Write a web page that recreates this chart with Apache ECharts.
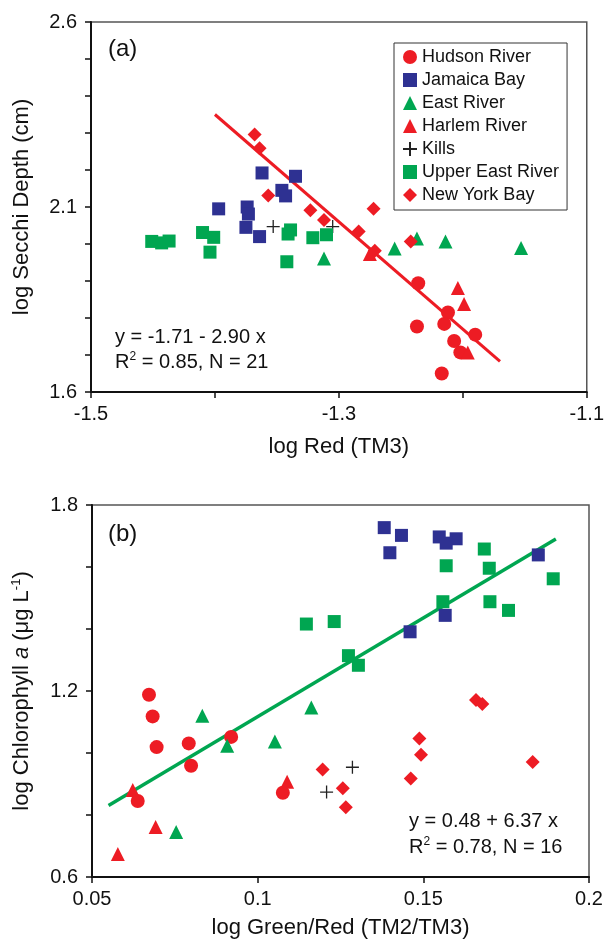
<!DOCTYPE html>
<html>
<head>
<meta charset="utf-8">
<title>Secchi depth and chlorophyll vs Landsat TM reflectance</title>
<script src="https://cdn.jsdelivr.net/npm/echarts@6/dist/echarts.min.js"></script>
<style>
  html, body { margin: 0; padding: 0; background: #fff; }
  #chart { width: 607px; height: 944px; }
</style>
</head>
<body>
<div id="chart"></div>
<script>
// ---- Panel (a): log Red (TM3) vs log Secchi depth ----
const hudsonA_x = [-1.236, -1.212, -1.215, -1.237, -1.207, -1.190, -1.202, -1.217];
const hudsonA_y = [1.894, 1.815, 1.784, 1.777, 1.738, 1.755, 1.707, 1.650];
const jamaicaA_x = [-1.362, -1.335, -1.346, -1.343, -1.397, -1.374, -1.373, -1.375, -1.364];
const jamaicaA_y = [2.192, 2.183, 2.145, 2.130, 2.095, 2.100, 2.081, 2.045, 2.020];
const eastA_x = [-1.312, -1.255, -1.237, -1.214, -1.153];
const eastA_y = [1.961, 1.988, 2.015, 2.007, 1.989];
const harlemA_x = [-1.275, -1.204, -1.199, -1.196];
const harlemA_y = [1.973, 1.881, 1.838, 1.707];
const killsA_x = [-1.353, -1.305];
const killsA_y = [2.047, 2.047];
const upperEastA_x = [-1.451, -1.443, -1.437, -1.410, -1.401, -1.404, -1.339, -1.341, -1.321, -1.310, -1.342];
const upperEastA_y = [2.007, 2.003, 2.008, 2.031, 2.018, 1.978, 2.038, 2.027, 2.017, 2.025, 1.952];
const nyBayA_x = [-1.368, -1.364, -1.357, -1.323, -1.312, -1.284, -1.272, -1.271, -1.242];
const nyBayA_y = [2.296, 2.259, 2.131, 2.091, 2.065, 2.034, 2.095, 1.982, 2.007];
// regression y = -1.71 - 2.90 x over the fitted range
const fitA = { intercept: -1.71, slope: -2.90 };
const fitA_xRange = [-1.40, -1.17];
const redTickLabels = ['-1.5', '-1.3', '-1.1'];
const secchiTickLabels = ['1.6', '2.1', '2.6'];

// ---- Panel (b): log Green/Red (TM2/TM3) vs log chlorophyll a ----
const hudsonB_x = [0.0672, 0.0683, 0.0695, 0.0792, 0.0799, 0.0638, 0.0920, 0.1076];
const hudsonB_y = [1.188, 1.118, 1.019, 1.031, 0.959, 0.845, 1.052, 0.872];
const jamaicaB_x = [0.1382, 0.1434, 0.1399, 0.1548, 0.1599, 0.1569, 0.1847, 0.1566, 0.1460];
const jamaicaB_y = [1.727, 1.702, 1.646, 1.697, 1.691, 1.677, 1.639, 1.444, 1.391];
const eastB_x = [0.0754, 0.0833, 0.0908, 0.1052, 0.1162];
const eastB_y = [0.745, 1.120, 1.023, 1.037, 1.147];
const harlemB_x = [0.0623, 0.0692, 0.0578, 0.1089];
const harlemB_y = [0.881, 0.761, 0.674, 0.907];
const killsB_x = [0.1286, 0.1208];
const killsB_y = [0.954, 0.874];
const upperEastB_x = [0.1147, 0.1231, 0.1274, 0.1304, 0.1684, 0.1699, 0.1892, 0.1559, 0.1701, 0.1757, 0.1569];
const upperEastB_y = [1.416, 1.424, 1.314, 1.283, 1.658, 1.596, 1.562, 1.488, 1.488, 1.460, 1.604];
const nyBayB_x = [0.1196, 0.1257, 0.1266, 0.1462, 0.1488, 0.1493, 0.1659, 0.1678, 0.1830];
const nyBayB_y = [0.947, 0.886, 0.825, 0.918, 1.047, 0.994, 1.171, 1.158, 0.971];
// regression y = 0.48 + 6.37 x over the fitted range
const fitB = { intercept: 0.48, slope: 6.37 };
const fitB_xRange = [0.055, 0.19];
const ratioTickLabels = ['0.05', '0.1', '0.15', '0.2'];
const chlTickLabels = ['0.6', '1.2', '1.8'];

const RED = '#ED1C24';
const BLUE = '#2E3192';
const GREEN = '#00A651';
const FONT = '"Liberation Sans", Arial, Helvetica, sans-serif';

const pairs = (xs, ys) => xs.map((x, i) => [x, ys[i]]);
const fitLine = (fit, range) => range.map(x => [x, fit.intercept + fit.slope * x]);
const pickLabel = labels => v => {
  const s = String(+(+v).toFixed(3));
  return labels.includes(s) ? s : '';
};

const CROSS = 'path://M6,0L6,12M0,6L12,6';

const groups = [
  { name: 'Hudson River', symbol: 'circle', size: 14, color: RED, a: [hudsonA_x, hudsonA_y], b: [hudsonB_x, hudsonB_y] },
  { name: 'Jamaica Bay', symbol: 'rect', size: 13, color: BLUE, a: [jamaicaA_x, jamaicaA_y], b: [jamaicaB_x, jamaicaB_y] },
  { name: 'East River', symbol: 'triangle', size: 14, color: GREEN, a: [eastA_x, eastA_y], b: [eastB_x, eastB_y] },
  { name: 'Harlem River', symbol: 'triangle', size: 14, color: RED, a: [harlemA_x, harlemA_y], b: [harlemB_x, harlemB_y] },
  { name: 'Kills', symbol: CROSS, size: 13, color: '#222', cross: true, a: [killsA_x, killsA_y], b: [killsB_x, killsB_y] },
  { name: 'Upper East River', symbol: 'rect', size: 13, color: GREEN, a: [upperEastA_x, upperEastA_y], b: [upperEastB_x, upperEastB_y] },
  { name: 'New York Bay', symbol: 'diamond', size: 14, color: RED, a: [nyBayA_x, nyBayA_y], b: [nyBayB_x, nyBayB_y] }
];

function scatterSeries(g, panel) {
  const xy = g[panel];
  const idx = panel === 'a' ? 0 : 1;
  return {
    type: 'scatter',
    name: g.name,
    xAxisIndex: idx,
    yAxisIndex: idx,
    symbol: g.symbol,
    symbolSize: g.size,
    z: 3,
    itemStyle: g.cross
      ? { color: 'rgba(0,0,0,0)', borderColor: g.color, borderWidth: 1.3, opacity: 1 }
      : { color: g.color, opacity: 1 },
    emphasis: { disabled: true },
    data: pairs(xy[0], xy[1])
  };
}

const axisCommon = {
  axisLine: { show: true, onZero: false, lineStyle: { color: '#111', width: 2 } },
  axisTick: { show: true, inside: false, length: 6, lineStyle: { color: '#111', width: 1.5 } },
  splitLine: { show: false },
  axisLabel: { color: '#111', fontSize: 20, fontFamily: FONT, margin: 12, showMinLabel: true, showMaxLabel: true },
  nameLocation: 'middle',
  nameTextStyle: { color: '#111', fontSize: 22, fontFamily: FONT }
};

const option = {
  animation: false,
  backgroundColor: '#fff',
  textStyle: { fontFamily: FONT },
  grid: [
    { left: 91, right: 18, top: 22, height: 370, show: true, borderColor: '#555', borderWidth: 1.5, backgroundColor: 'transparent' },
    { left: 92, right: 18, top: 505, height: 372, show: true, borderColor: '#555', borderWidth: 1.5, backgroundColor: 'transparent' }
  ],
  xAxis: [
    Object.assign({}, axisCommon, {
      type: 'value', gridIndex: 0, min: -1.5, max: -1.1, interval: 0.1,
      name: 'log Red (TM3)', nameGap: 44,
      axisLabel: Object.assign({}, axisCommon.axisLabel, { formatter: pickLabel(redTickLabels) })
    }),
    Object.assign({}, axisCommon, {
      type: 'value', gridIndex: 1, min: 0.05, max: 0.2, interval: 0.05,
      name: 'log Green/Red (TM2/TM3)', nameGap: 40,
      axisLabel: Object.assign({}, axisCommon.axisLabel, { formatter: pickLabel(ratioTickLabels) })
    })
  ],
  yAxis: [
    Object.assign({}, axisCommon, {
      type: 'value', gridIndex: 0, min: 1.6, max: 2.6, interval: 0.1,
      name: 'log Secchi Depth (cm)', nameGap: 58,
      axisLabel: Object.assign({}, axisCommon.axisLabel, { margin: 14, formatter: pickLabel(secchiTickLabels) })
    }),
    Object.assign({}, axisCommon, {
      type: 'value', gridIndex: 1, min: 0.6, max: 1.8, interval: 0.2,
      name: 'log Chlorophyll {i|a} (μg L{s|-1})', nameGap: 58,
      nameTextStyle: {
        color: '#111', fontSize: 22, fontFamily: FONT,
        rich: {
          i: { fontSize: 22, fontStyle: 'italic', fontFamily: FONT, color: '#111' },
          s: { fontSize: 13, fontFamily: FONT, color: '#111', verticalAlign: 'top', lineHeight: 24 }
        }
      },
      axisLabel: Object.assign({}, axisCommon.axisLabel, { margin: 14, formatter: pickLabel(chlTickLabels) })
    })
  ],
  legend: {
    left: 394, top: 43,
    orient: 'vertical',
    data: groups.map(g => g.name),
    itemWidth: 14, itemHeight: 14, itemGap: 5,
    padding: [5, 8, 6, 8],
    borderColor: '#333', borderWidth: 1,
    backgroundColor: '#fff',
    selectedMode: false,
    textStyle: { color: '#111', fontSize: 18, fontFamily: FONT, lineHeight: 18 }
  },
  series: [
    {
      type: 'line', name: 'fit (a)', xAxisIndex: 0, yAxisIndex: 0, z: 2,
      showSymbol: false, symbol: 'none', silent: true,
      lineStyle: { color: RED, width: 3 },
      data: fitLine(fitA, fitA_xRange)
    },
    {
      type: 'line', name: 'fit (b)', xAxisIndex: 1, yAxisIndex: 1, z: 2,
      showSymbol: false, symbol: 'none', silent: true,
      lineStyle: { color: GREEN, width: 3.5 },
      data: fitLine(fitB, fitB_xRange)
    }
  ]
    .concat(groups.map(g => scatterSeries(g, 'a')))
    .concat(groups.map(g => scatterSeries(g, 'b'))),
  graphic: [
    { type: 'text', left: 108, top: 37, style: { text: '(a)', font: '24px ' + FONT, fill: '#111' } },
    { type: 'text', left: 108, top: 522, style: { text: '(b)', font: '24px ' + FONT, fill: '#111' } },
    { type: 'text', x: 115, y: 337, style: { text: 'y = -1.71 - 2.90 x', font: '20px ' + FONT, fill: '#111', verticalAlign: 'middle' } },
    {
      type: 'text', x: 115, y: 362,
      style: {
        text: 'R{s|2} = 0.85, N = 21', font: '20px ' + FONT, fill: '#111', verticalAlign: 'middle',
        rich: { s: { fontSize: 12, fontFamily: FONT, fill: '#111', verticalAlign: 'top', lineHeight: 22 } }
      }
    },
    { type: 'text', x: 409, y: 821, style: { text: 'y = 0.48 + 6.37 x', font: '20px ' + FONT, fill: '#111', verticalAlign: 'middle' } },
    {
      type: 'text', x: 409, y: 847,
      style: {
        text: 'R{s|2} = 0.78, N = 16', font: '20px ' + FONT, fill: '#111', verticalAlign: 'middle',
        rich: { s: { fontSize: 12, fontFamily: FONT, fill: '#111', verticalAlign: 'top', lineHeight: 22 } }
      }
    }
  ]
};

const chart = echarts.init(document.getElementById('chart'), null, { renderer: 'canvas' });
chart.setOption(option);
</script>
</body>
</html>
